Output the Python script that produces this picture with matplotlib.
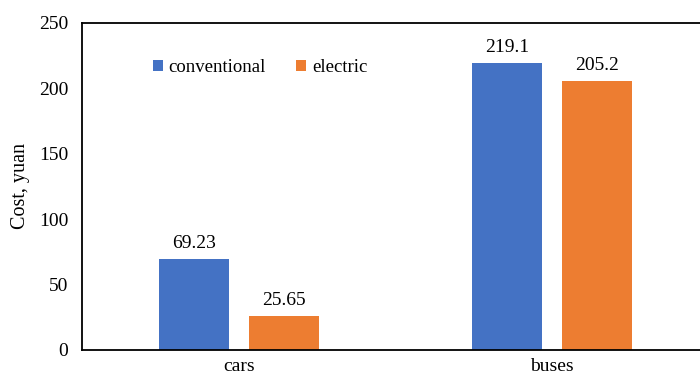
import numpy as np
import matplotlib
matplotlib.use('Agg')
import matplotlib.pyplot as plt

categories = ['cars', 'buses']
conventional = [69.23, 219.1]
electric = [25.65, 205.2]
conv_labels = ['69.23', '219.1']
elec_labels = ['25.65', '205.2']

plt.rcParams['font.family'] = ['Liberation Serif', 'DejaVu Serif']

fig = plt.figure(figsize=(7, 3.74), dpi=100)
# right edge of the plot box sits just past the picture edge
ax = fig.add_axes([82 / 700, 24 / 374, 627 / 700, 327.3 / 374])

x = np.arange(len(categories))
w = 0.223
off = 0.1435
b1 = ax.bar(x - off, conventional, w, color='#4472C4', label='conventional')
b2 = ax.bar(x + off, electric, w, color='#ED7D31', label='electric')

for bars, labs in [(b1, conv_labels), (b2, elec_labels)]:
    for b, t in zip(bars, labs):
        ax.annotate(t, (b.get_x() + b.get_width() / 2, b.get_height()),
                    xytext=(0, 5), textcoords='offset points',
                    ha='center', va='bottom', fontsize=14)

ax.set_xlim(-0.5, 1.5)
ax.set_ylim(0, 250)
ax.set_yticks(range(0, 251, 50))
ax.set_xticks(x)
ax.set_xticklabels(categories)
ax.tick_params(axis='both', length=0, labelsize=14)
ax.tick_params(axis='y', pad=10)
ax.tick_params(axis='x', pad=6)
ax.set_ylabel('Cost, yuan', fontsize=14.5, labelpad=6)

for s in ax.spines.values():
    s.set_color('black')
    s.set_linewidth(1.3)

ax.legend(loc='upper left', bbox_to_anchor=(0.086, 0.94), ncol=2, frameon=False,
          fontsize=13.5, handlelength=0.55, handleheight=0.55, handletextpad=0.3,
          columnspacing=1.6)

fig.savefig('out.png', dpi=100)
